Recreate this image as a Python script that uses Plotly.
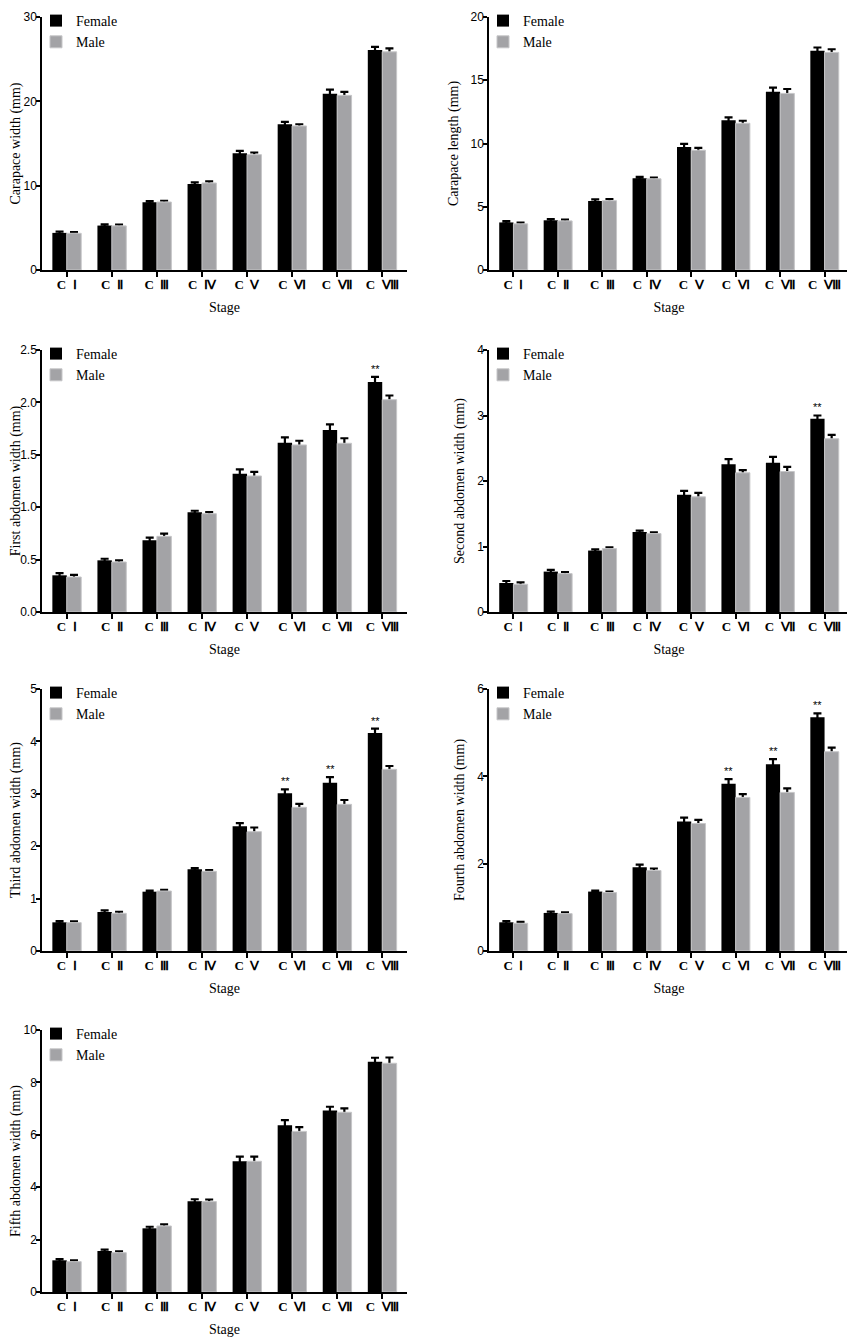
import plotly.graph_objects as go

stages = ["C\u00a0\u00a0Ⅰ", "C\u00a0\u00a0Ⅱ", "C\u00a0\u00a0Ⅲ", "C\u00a0\u00a0Ⅳ",
          "C\u00a0\u00a0Ⅴ", "C\u00a0\u00a0Ⅵ", "C\u00a0\u00a0Ⅶ", "C\u00a0\u00a0Ⅷ"]

# means and upper error (SE), female / male
cw_f = [4.40, 5.27, 8.02, 10.20, 13.83, 17.27, 20.90, 26.10]
cw_m = [4.35, 5.23, 8.06, 10.32, 13.68, 17.08, 20.71, 25.87]
cw_fe = [0.15, 0.15, 0.15, 0.20, 0.30, 0.30, 0.50, 0.35]
cw_me = [0.15, 0.15, 0.15, 0.20, 0.25, 0.20, 0.40, 0.40]

cl_f = [3.76, 3.93, 5.46, 7.26, 9.72, 11.83, 14.09, 17.34]
cl_m = [3.65, 3.88, 5.48, 7.21, 9.47, 11.60, 13.96, 17.20]
cl_fe = [0.10, 0.10, 0.12, 0.10, 0.25, 0.23, 0.33, 0.25]
cl_me = [0.10, 0.10, 0.12, 0.10, 0.18, 0.20, 0.35, 0.25]

a1_f = [0.350, 0.493, 0.684, 0.951, 1.320, 1.616, 1.737, 2.195]
a1_m = [0.334, 0.477, 0.722, 0.938, 1.298, 1.594, 1.610, 2.026]
a1_fe = [0.020, 0.015, 0.025, 0.015, 0.040, 0.050, 0.054, 0.048]
a1_me = [0.020, 0.015, 0.025, 0.015, 0.040, 0.040, 0.048, 0.040]

a2_f = [0.443, 0.617, 0.938, 1.223, 1.789, 2.257, 2.278, 2.950]
a2_m = [0.423, 0.586, 0.968, 1.197, 1.758, 2.125, 2.145, 2.645]
a2_fe = [0.030, 0.025, 0.020, 0.020, 0.060, 0.077, 0.090, 0.050]
a2_me = [0.030, 0.025, 0.020, 0.020, 0.060, 0.040, 0.070, 0.060]

a3_f = [0.547, 0.744, 1.132, 1.558, 2.379, 3.009, 3.212, 4.160]
a3_m = [0.541, 0.719, 1.145, 1.520, 2.277, 2.742, 2.799, 3.467]
a3_fe = [0.025, 0.030, 0.020, 0.025, 0.060, 0.076, 0.108, 0.083]
a3_me = [0.025, 0.030, 0.020, 0.025, 0.080, 0.064, 0.083, 0.064]

a4_f = [0.657, 0.872, 1.361, 1.919, 2.966, 3.830, 4.274, 5.352]
a4_m = [0.635, 0.856, 1.338, 1.843, 2.920, 3.517, 3.632, 4.564]
a4_fe = [0.030, 0.030, 0.025, 0.060, 0.090, 0.107, 0.122, 0.092]
a4_me = [0.030, 0.030, 0.025, 0.046, 0.084, 0.076, 0.092, 0.092]

a5_f = [1.209, 1.565, 2.430, 3.460, 4.990, 6.360, 6.930, 8.790]
a5_m = [1.158, 1.500, 2.520, 3.450, 4.990, 6.130, 6.860, 8.730]
a5_fe = [0.050, 0.050, 0.060, 0.080, 0.180, 0.200, 0.140, 0.150]
a5_me = [0.050, 0.050, 0.060, 0.080, 0.180, 0.165, 0.150, 0.220]

# significant female > male marks (stage index)
a1_sig = [7]
a2_sig = [7]
a3_sig = [5, 6, 7]
a4_sig = [5, 6, 7]

panels = [
    ("Carapace width (mm)", cw_f, cw_m, cw_fe, cw_me, [], 30, [0, 10, 20, 30], None),
    ("Carapace length (mm)", cl_f, cl_m, cl_fe, cl_me, [], 20, [0, 5, 10, 15, 20], None),
    ("First abdomen width (mm)", a1_f, a1_m, a1_fe, a1_me, a1_sig, 2.5, [0, 0.5, 1.0, 1.5, 2.0, 2.5], ".1f"),
    ("Second abdomen width (mm)", a2_f, a2_m, a2_fe, a2_me, a2_sig, 4, [0, 1, 2, 3, 4], None),
    ("Third abdomen width (mm)", a3_f, a3_m, a3_fe, a3_me, a3_sig, 5, [0, 1, 2, 3, 4, 5], None),
    ("Fourth abdomen width (mm)", a4_f, a4_m, a4_fe, a4_me, a4_sig, 6, [0, 2, 4, 6], None),
    ("Fifth abdomen width (mm)", a5_f, a5_m, a5_fe, a5_me, [], 10, [0, 2, 4, 6, 8, 10], None),
]

# page body has an 8px margin, so lay out in page pixels minus that offset
OFF = 8
W, H = 855 - OFF, 1339 - OFF
col_px = [(42, 407), (489, 849)]
row_px = [(17, 270), (350, 612), (689, 951), (1030, 1292)]

serif = "Liberation Serif, Times New Roman, serif"
sans = "Liberation Sans, Arial, sans-serif"
F_COL, M_COL = "#000000", "#a3a3a6"

fig = go.Figure()
layout = {}
annotations = []

for i, (title, fv, mv, fe, me, sig, ymax, yt, fmt) in enumerate(panels):
    r, c = divmod(i, 2)
    n = "" if i == 0 else str(i + 1)
    xa, ya = "x" + n, "y" + n
    lg = "legend" + n
    x0, x1 = [p - OFF for p in col_px[c]]
    top, bot = [p - OFF for p in row_px[r]]

    # error bars go on hidden bars drawn first, so the real bars cover the lower half
    for vals, errs, grp in [(fv, fe, "f"), (mv, me, "m")]:
        fig.add_trace(go.Bar(
            x=stages, y=vals, xaxis=xa, yaxis=ya, offsetgroup=grp, showlegend=False,
            marker=dict(color="rgba(0,0,0,0)", line=dict(width=0)), hoverinfo="skip",
            error_y=dict(type="data", array=errs, color="#000000", thickness=2.2, width=4),
        ))

    fig.add_trace(go.Bar(
        x=stages, y=fv, name="Female", xaxis=xa, yaxis=ya, legend=lg, offsetgroup="f",
        marker=dict(color=F_COL, line=dict(width=0)),
    ))
    fig.add_trace(go.Bar(
        x=stages, y=mv, name="Male", xaxis=xa, yaxis=ya, legend=lg, offsetgroup="m",
        marker=dict(color=M_COL, line=dict(width=1, color="#c6c6c8")),
    ))

    layout["xaxis" + n] = dict(
        domain=[x0 / W, x1 / W], anchor=ya, type="category", range=[-0.55, 7.55],
        automargin=False, ticklabelstandoff=-3, ticklabeloverflow="allow",
        showline=True, linecolor="black", linewidth=1.5, ticks="outside", ticklen=5,
        tickwidth=1.5, tickcolor="black", showgrid=False, zeroline=False,
        tickfont=dict(family=serif, size=13, color="black", weight="bold"),
        title=dict(text="Stage", font=dict(family=serif, size=14, color="black"), standoff=11),
    )
    layout["yaxis" + n] = dict(
        domain=[1 - bot / H, 1 - top / H], anchor=xa, range=[0, ymax],
        tickvals=yt, tickformat=fmt, automargin=False, ticklabelstandoff=-3,
        ticklabeloverflow="allow",
        showline=True, linecolor="black", linewidth=1.5, ticks="outside", ticklen=4,
        tickwidth=1.5, tickcolor="black", showgrid=False, zeroline=False,
        tickfont=dict(family=sans, size=12, color="black"),
        title=dict(text=title, font=dict(family=serif, size=14, color="black"), standoff=9),
    )
    layout[lg] = dict(
        x=(x0 - 6) / W, y=1 - (top - 12) / H, xanchor="left", yanchor="top",
        bgcolor="rgba(0,0,0,0)", borderwidth=0, tracegroupgap=0,
        font=dict(family=serif, size=14, color="black"),
    )

    for k in sig:
        annotations.append(dict(
            x=stages[k], y=fv[k] + fe[k], xref=xa, yref=ya, text="**", showarrow=False,
            xshift=-7, yshift=0, yanchor="bottom", font=dict(family=sans, size=11, color="black"),
        ))

fig.update_layout(
    width=W, height=H, margin=dict(l=0, r=0, t=0, b=0, autoexpand=False),
    paper_bgcolor="white", plot_bgcolor="white",
    barmode="group", bargap=0.36, bargroupgap=0,
    annotations=annotations, **layout,
)

fig.write_html("out.html")
